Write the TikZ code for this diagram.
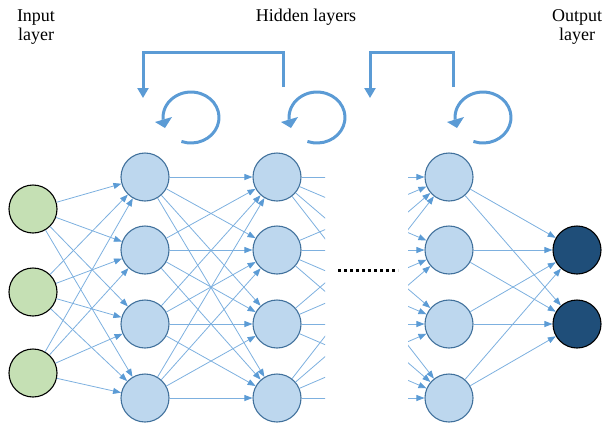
\documentclass[tikz,border=0pt]{standalone}
\usepackage{fontspec}
\setmainfont{Liberation Serif}
\usetikzlibrary{arrows.meta}
\definecolor{hidfill}{HTML}{BDD7EE}
\definecolor{hidline}{HTML}{41719C}
\definecolor{infill}{HTML}{C5E0B4}
\definecolor{outfill}{HTML}{1F4E79}
\definecolor{accent}{HTML}{5B9BD5}
\definecolor{wire}{HTML}{7DB0DF}

\begin{document}
\begin{tikzpicture}[x=1pt,y=-1pt,
  neuron/.style={circle, minimum size=48pt, inner sep=0pt, line width=1.1pt},
  hid/.style={neuron, fill=hidfill, draw=hidline},
  inp/.style={neuron, fill=infill, draw=black},
  outp/.style={neuron, fill=outfill, draw=black},
  wirearrow/.style={draw=wire, line width=0.8pt, -{Triangle[length=8pt,width=6pt,color=accent]}},
  fb/.style={draw=accent, line width=3pt, -{Triangle[length=10pt,width=11pt]}},
  loopline/.style={draw=accent, line width=3pt},
  loophead/.style={fill=accent},
  lbl/.style={font=\fontsize{18}{20}\selectfont, inner sep=0pt, anchor=base}]

\useasboundingbox (0,0) rectangle (602,426);

% ---- neurons ----
\foreach \i/\y in {1/209,2/292,3/373}
  \node[inp] (in\i) at (33,\y) {};
\foreach \i/\y in {1/177,2/250,3/324,4/398} {
  \node[hid] (ha\i) at (145,\y) {};
  \node[hid] (hb\i) at (277,\y) {};
  \node[hid] (hc\i) at (449,\y) {};
}
\foreach \i/\y in {1/250,2/324}
  \node[outp] (out\i) at (577,\y) {};

% ---- full connections ----
\foreach \s in {1,2,3}
  \foreach \t in {1,2,3,4}
    \draw[wirearrow] (in\s) -- (ha\t);
\foreach \s in {1,2,3,4}
  \foreach \t in {1,2,3,4}
    \draw[wirearrow] (ha\s) -- (hb\t);
\foreach \s in {1,2,3,4}
  \foreach \t in {1,2}
    \draw[wirearrow] (hc\s) -- (out\t);

% ---- elided middle: connections shown only near both layers ----
\begin{scope}
  \clip (0,0) rectangle (325,426) (408,0) rectangle (602,426);
  \foreach \s in {1,2,3,4}
    \foreach \t in {1,2,3,4}
      \draw[wirearrow] (hb\s) -- (hc\t);
\end{scope}
\coordinate (dotsL) at (338,270);
\coordinate (dotsR) at (398,270);
\draw[line width=3pt, dash pattern=on 3pt off 3pt] (dotsL) -- (dotsR);

% ---- recurrent feedback ----
\coordinate (fa0) at (283,87);
\coordinate (fa1) at (283,52);
\coordinate (fa2) at (143,52);
\coordinate (fa3) at (143,98);
\draw[fb] (fa0) -- (fa1) -- (fa2) -- (fa3);
\coordinate (fb0) at (453,87);
\coordinate (fb1) at (453,52);
\coordinate (fb2) at (370,52);
\coordinate (fb3) at (370,98);
\draw[fb] (fb0) -- (fb1) -- (fb2) -- (fb3);

% self-loops: open arc with a head pointing out to the lower left
\foreach \cx in {191,317,483} {
  \begin{scope}[shift={(\cx,117.5)}]
    \draw[loopline] (110:28 and 25.5) arc[start angle=110, end angle=-185, x radius=28, y radius=25.5];
    \fill[loophead] (-36,4.5) -- (-19,-0.5) -- (-26,10.5) -- cycle;
  \end{scope}
}

% ---- labels ----
\node[lbl] (inA) at (36,21.7) {Input};
\node[lbl] (inB) at (36,40.7) {layer};
\node[lbl] (hidA) at (306,21.7) {Hidden layers};
\node[lbl] (outA) at (577,21.7) {Output};
\node[lbl] (outB) at (577,40.7) {layer};
\end{tikzpicture}
\end{document}
